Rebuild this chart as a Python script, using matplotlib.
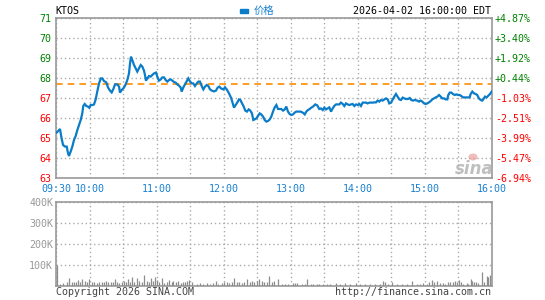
import matplotlib
matplotlib.use("Agg")
import matplotlib.pyplot as plt
from matplotlib.patches import Ellipse, Rectangle

# ---------------- data ----------------
symbol = "KTOS"
stamp = "2026-04-02 16:00:00 EDT"
prev_close = 67.70
time_labels = ["09:30", "10:00", "", "11:00", "", "12:00", "", "13:00", "",
               "14:00", "", "15:00", "", "16:00"]
price_ticks = [63, 64, 65, 66, 67, 68, 69, 70, 71]
vol_ticks = [100000, 200000, 300000, 400000]
vol_tick_labels = ["100K", "200K", "300K", "400K"]

# minutes since 09:30
t_min = [0.6, 2.7, 3.6, 4.7, 6.3, 8.1, 9.6, 10.7, 11.6, 13.1,
         14.6, 16.1, 17.6, 19.1, 20.6, 22.1, 23.5, 24.4, 25.7, 27.1,
         28.6, 29.8, 31.0, 32.8, 34.0, 35.5, 36.9, 38.5, 40.0, 41.4,
         42.9, 45.0, 46.5, 48.3, 49.8, 51.3, 52.8, 54.8, 56.4, 57.2,
         58.8, 60.8, 62.3, 63.8, 65.3, 66.2, 67.1, 68.2, 69.8, 71.3,
         72.7, 74.2, 75.8, 77.2, 78.7,
         79.6, 80.5, 81.7, 83.2, 84.7, 86.1, 87.7, 89.5, 90.6, 92.1,
         93.7, 95.1, 96.6, 98.1, 99.6, 101.1, 102.6, 104.0, 105.6, 107.1,
         108.5, 110.3, 111.5, 112.4, 113.9, 115.4, 116.9, 118.3, 119.9, 121.4,
         122.8, 124.3, 125.9, 127.3, 128.8, 130.3, 131.8, 133.3, 134.8, 136.2,
         137.8, 139.3, 141.3, 143.1, 144.6, 146.1, 147.6, 149.7, 151.2, 152.7,
         154.1, 155.6, 156.8, 158.1, 159.2, 160.7, 162.2, 163.7, 164.9, 166.4,
         167.9, 169.3, 170.8, 172.4, 173.8, 175.3, 176.5, 177.7, 179.2, 180.7,
         182.2, 183.6, 185.2, 186.7, 188.1, 189.6, 191.2, 192.6, 194.1, 195.6,
         197.1, 198.6, 200.1, 201.5, 203.1, 204.6, 206.0, 207.5, 209.0, 210.5,
         212.0, 213.5, 214.9, 217.1, 218.9, 220.7, 222.5, 223.9, 225.4, 226.9,
         228.4, 229.9, 231.9,
         233.7, 235.5, 237.0, 238.6, 240.0, 241.5, 243.0, 244.5, 246.0, 247.5,
         248.9, 250.5, 252.0, 253.4, 254.9, 256.5, 257.9, 259.4, 260.9, 262.4,
         263.9, 265.4, 266.8, 268.4, 269.9, 271.3, 272.8, 274.3, 275.8, 277.3,
         278.8, 280.3, 281.8, 283.3, 284.7, 286.2, 287.7, 289.2, 290.7, 292.2,
         293.7, 295.2, 296.7, 298.1, 299.7, 301.2, 302.6, 304.1, 305.6, 307.1,
         308.6, 310.1, 311.6, 313.1,
         314.9, 316.4, 317.8, 319.3, 320.9, 323.2, 324.7, 326.2, 327.6, 329.2,
         330.7, 332.1, 333.6, 335.2, 336.6, 338.1, 339.6, 341.1, 342.6, 344.1,
         345.5, 347.1, 348.6, 350.0, 350.9, 352.2, 353.6, 355.1, 356.6, 358.1,
         359.6, 361.1, 362.5, 364.1, 365.6, 367.0, 368.5, 370.0, 370.9, 372.4,
         373.9, 375.4, 376.8, 378.3, 379.9, 381.3, 382.8, 383.7, 385.2, 386.4,
         388.2, 389.7]

price = [65.27, 65.40, 65.45, 65.07, 64.65, 64.57, 64.57, 64.25, 64.10, 64.32,
         64.57, 64.90, 65.10, 65.40, 65.65, 65.90, 66.23, 66.60, 66.70, 66.60,
         66.57, 66.51, 66.65, 66.65, 66.68, 66.93, 67.32, 67.73, 67.98, 67.98,
         67.85, 67.78, 67.53, 67.37, 67.28, 67.45, 67.68, 67.68, 67.57, 67.27,
         67.40, 67.52, 67.68, 67.90, 68.23, 68.73, 69.07, 68.90, 68.65, 68.48,
         68.32, 68.48, 68.65, 68.57, 68.37,
         68.15, 67.87, 67.98, 68.10, 68.07, 68.15, 68.23, 68.27, 68.07, 67.87,
         67.93, 68.03, 68.03, 67.90, 67.82, 67.90, 67.93, 67.87, 67.80, 67.77,
         67.68, 67.60, 67.53, 67.32, 67.53, 67.68, 67.82, 67.98, 67.82, 67.73,
         67.73, 67.60, 67.73, 67.82, 67.82, 67.60, 67.43, 67.57, 67.65, 67.60,
         67.43, 67.37, 67.33, 67.37, 67.52, 67.57, 67.48, 67.43, 67.53, 67.43,
         67.30, 67.13, 66.98, 66.73, 66.52, 66.65, 66.78, 66.93, 66.90, 66.73,
         66.57, 66.37, 66.32, 66.43, 66.37, 66.23, 65.90, 65.93, 65.98, 66.10,
         66.23, 66.18, 66.07, 65.90, 65.82, 65.85, 65.93, 66.07, 66.32, 66.53,
         66.65, 66.45, 66.45, 66.45, 66.37, 66.43, 66.57, 66.32, 66.20, 66.15,
         66.18, 66.27, 66.32, 66.32, 66.32, 66.27, 66.18, 66.32, 66.40, 66.45,
         66.52, 66.57, 66.68,
         66.63, 66.45, 66.48, 66.40, 66.52, 66.43, 66.48, 66.53, 66.32, 66.48,
         66.60, 66.68, 66.68, 66.68, 66.77, 66.70, 66.60, 66.73, 66.68, 66.65,
         66.68, 66.70, 66.60, 66.68, 66.65, 66.70, 66.60, 66.77, 66.77, 66.77,
         66.73, 66.77, 66.77, 66.77, 66.78, 66.78, 66.87, 66.82, 66.90, 66.87,
         66.93, 66.98, 66.93, 66.73, 66.77, 66.93, 67.07, 67.20, 67.07, 66.93,
         66.90, 67.02, 66.98, 66.95,
         66.95, 67.00, 66.90, 66.87, 66.90, 66.87, 66.82, 66.87, 66.82, 66.73,
         66.70, 66.73, 66.78, 66.85, 66.93, 66.98, 67.03, 67.07, 67.15, 67.07,
         66.98, 66.98, 66.93, 66.93, 67.15, 67.27, 67.27, 67.20, 67.15, 67.18,
         67.15, 67.15, 67.10, 67.03, 67.03, 67.03, 67.03, 67.03, 67.20, 67.32,
         67.23, 67.20, 67.15, 66.98, 66.90, 66.87, 66.98, 67.07, 67.03, 67.10,
         67.20, 67.32]

vol_min = [1.2, 3.6, 6.6, 9.5, 11.9, 14.0, 16.1, 17.9, 19.4, 21.5,
           23.5, 25.9, 28.0, 29.8, 31.9, 34.0, 36.4, 38.8, 40.8, 42.9,
           44.7, 46.8, 48.9, 51.3, 52.8, 54.9, 56.6, 58.7, 60.8, 62.6,
           64.7, 66.2, 68.0, 70.1, 72.1, 74.5, 76.6, 79.0, 81.1, 83.2,
           85.0, 86.5, 88.6, 90.6, 92.4, 94.5, 96.6, 99.0, 101.4, 103.5,
           104.9, 107.3, 109.4, 111.5, 113.3, 115.4, 116.9, 119.3, 121.4, 125.9,
           128.8, 131.8, 134.8, 137.8, 140.7, 143.1, 145.2, 148.2, 150.5, 152.7,
           155.0, 157.2, 159.5, 161.6, 164.0, 166.1, 168.4, 171.1, 173.5, 175.6,
           177.4, 179.5, 181.6, 184.0, 186.2, 188.6, 190.8, 192.9, 195.0,
           198.9, 201.9, 204.8, 207.8, 211.7, 213.8, 215.9, 219.8, 222.7, 224.8,
           227.8, 230.2, 233.2, 235.5, 239.1, 242.1, 245.1, 250.5, 254.0, 258.5,
           263.0, 268.4, 271.9, 276.4, 280.9, 285.4, 289.8, 292.8, 294.3, 297.3,
           300.3, 304.8, 309.2, 313.7, 318.7, 322.6, 325.6, 328.6, 331.6, 333.9,
           336.6, 338.4, 341.1, 343.5, 345.9, 348.0, 350.9, 352.4, 354.8, 356.9,
           359.0, 360.8, 362.3, 364.3, 367.3, 368.8, 370.9, 372.4, 373.9, 375.7,
           377.8, 380.8, 382.8, 385.2, 386.7, 388.2]

vol_k = [100, 8, 13, 16, 35, 16, 19, 16, 29, 19,
         32, 24, 16, 32, 19, 16, 13, 19, 16, 16,
         24, 19, 16, 19, 32, 16, 13, 19, 24, 16,
         32, 19, 40, 19, 35, 24, 19, 51, 24, 16,
         35, 24, 40, 29, 19, 35, 13, 19, 29, 16,
         24, 19, 24, 13, 16, 19, 24, 29, 16, 8,
         13, 8, 13, 8, 13, 24, 8, 13, 19, 16,
         13, 16, 35, 16, 19, 13, 19, 32, 16, 24,
         19, 24, 32, 24, 16, 19, 48, 16, 24,
         32, 8, 8, 8, 11, 11, 11, 8, 8, 32,
         8, 10, 10, 10, 8, 8, 8, 13, 8, 13,
         8, 13, 8, 8, 10, 8, 10, 24, 19, 10,
         16, 8, 10, 8, 24, 8, 10, 13, 10, 16,
         29, 19, 24, 13, 13, 8, 16, 19, 19, 24,
         19, 29, 16, 8, 13, 8, 32, 24, 19, 16,
         13, 64, 19, 45, 40, 51]

# ---------------- styling ----------------
W, H = 545, 300
MONO = "DejaVu Sans Mono"
FS = 7.2
GREEN = "#008000"
RED = "#ff0000"
BLUE = "#1a80d0"
LINE = "#0a7cc8"
FRAME = "#999999"
GRID = "#aaaaaa"

def fx(px):
    return px / W

def fy(py):
    return 1 - py / H

fig = plt.figure(figsize=(W / 100, H / 100), dpi=100)
fig.patch.set_facecolor("white")

# price panel
ax = fig.add_axes([fx(56), fy(178), fx(492) - fx(56), fy(18) - fy(178)])
ax.set_xlim(0, 390)
ax.set_ylim(63, 71)
ax.plot(t_min, price, color=LINE, lw=1.6, solid_joinstyle="miter", zorder=3)
ax.axhline(prev_close, color="#ff8c00", lw=1.2, dashes=(4, 3), zorder=2)

ax.set_xticks(range(0, 391, 30))
ax.set_xticklabels(time_labels, fontfamily=MONO, fontsize=FS, color=BLUE)
ax.set_yticks(price_ticks)
ax.set_yticklabels([str(p) for p in price_ticks], fontfamily=MONO, fontsize=FS)
for lab, p in zip(ax.get_yticklabels(), price_ticks):
    lab.set_color(GREEN if p > prev_close else RED)
ax.tick_params(axis="both", length=0)
ax.tick_params(axis="y", pad=3)
ax.tick_params(axis="x", pad=4)
ax.grid(True, color=GRID, lw=1.0, linestyle=(0, (1, 2)))
ax.set_axisbelow(True)
for s in ax.spines.values():
    s.set_color(FRAME)
    s.set_linewidth(1.2)

axr = ax.twinx()
axr.set_ylim(63, 71)
axr.set_yticks(price_ticks)
axr.set_yticklabels([f"{(p / prev_close - 1) * 100:+.2f}%" for p in price_ticks],
                    fontfamily=MONO, fontsize=FS)
for lab, p in zip(axr.get_yticklabels(), price_ticks):
    lab.set_color(GREEN if p > prev_close else RED)
axr.tick_params(axis="y", length=0, pad=2)
for s in axr.spines.values():
    s.set_visible(False)

# volume panel
axv = fig.add_axes([fx(56), fy(285.7), fx(492) - fx(56), fy(201.7) - fy(285.7)])
axv.set_xlim(0, 390)
axv.set_ylim(0, 400000)
axv.vlines(vol_min, 0, [v * 1000 for v in vol_k], color="#8c8c8c", lw=0.9, zorder=3)
axv.set_xticks(range(0, 391, 30))
axv.set_xticklabels([])
axv.set_yticks(vol_ticks)
axv.set_yticklabels(vol_tick_labels, fontfamily=MONO, fontsize=FS, color=FRAME)
axv.tick_params(axis="both", length=0)
axv.tick_params(axis="y", pad=2)
axv.grid(True, color=GRID, lw=1.0, linestyle=(0, (1, 2)))
axv.set_axisbelow(True)
for s in axv.spines.values():
    s.set_color(FRAME)
    s.set_linewidth(1.2)

# header texts
fig.text(fx(55), fy(11), symbol, fontfamily=MONO, fontsize=FS, color="black",
         ha="left", va="center")
fig.text(fx(491), fy(11), stamp, fontfamily=MONO, fontsize=FS, color="black",
         ha="right", va="center")
fig.patches.append(Rectangle((fx(240), fy(13)), fx(8), fy(9) - fy(13),
                             transform=fig.transFigure, color=LINE))
fig.text(fx(254), fy(11), "价格", family=["Noto Sans CJK SC", "DejaVu Sans"],
         fontsize=7.5, color=BLUE, ha="left", va="center")

# footer texts
fig.text(fx(56), fy(292), "Copyright 2026 SINA.COM", fontfamily=MONO, fontsize=FS,
         color="#444444", ha="left", va="center")
fig.text(fx(491), fy(292), "http://finance.sina.com.cn", fontfamily=MONO, fontsize=FS,
         color="#444444", ha="right", va="center")

# watermark
fig.text(fx(474), fy(169), "sina", fontfamily="DejaVu Sans", fontsize=12,
         fontweight="bold", fontstyle="italic", color="#b0b0b0", alpha=0.8,
         ha="center", va="center")
fig.patches.append(Ellipse((fx(473), fy(157)), fx(9), fy(150) - fy(157),
                           transform=fig.transFigure, facecolor="#e89090",
                           edgecolor="none", alpha=0.6))

fig.savefig("out.png", dpi=100)
